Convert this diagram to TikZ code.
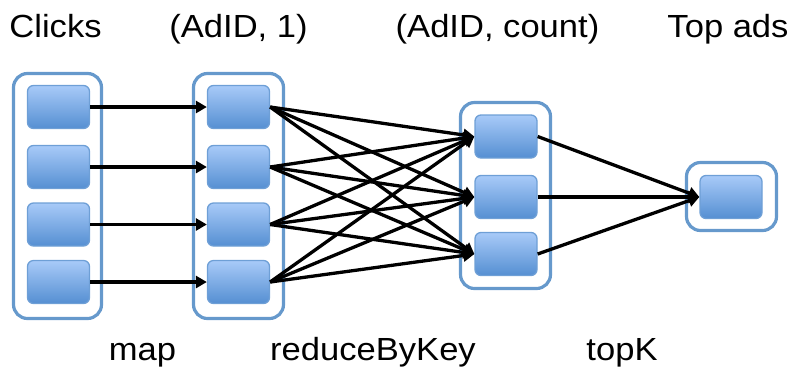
\documentclass[tikz,border=0pt]{standalone}
\usepackage{fontspec}
\setmainfont[FakeStretch=1.08]{Liberation Sans}
\usetikzlibrary{arrows.meta}
\definecolor{outerblue}{HTML}{6699CC}
\definecolor{innertop}{HTML}{A8CAF8}
\definecolor{innerbot}{HTML}{558FD2}
\definecolor{innerline}{HTML}{6E9FD6}
\begin{document}
\begin{tikzpicture}[x=1pt,y=-1pt,
  cell/.style={draw=innerline, line width=1.3pt, rounded corners=6pt,
    top color=innertop, bottom color=innerbot,
    minimum width=62pt, minimum height=43pt, inner sep=0pt},
  group/.style={draw=outerblue, line width=3.2pt, rounded corners=14pt, inner sep=0pt},
  lbl/.style={font=\fontsize{32}{38}\selectfont, inner sep=0pt, anchor=base},
  flow/.style={-{Triangle[length=11pt,width=12pt]}, line width=3.3pt, black}]
\useasboundingbox (0,0) rectangle (791,368);
% outer groups
\node[group, minimum width=88pt, minimum height=245pt] (g1) at (57.5,196) {};
\node[group, minimum width=90pt, minimum height=245pt] (g2) at (238.5,196) {};
\node[group, minimum width=90pt, minimum height=186pt] (g3) at (505.5,195.5) {};
\node[group, minimum width=90pt, minimum height=68pt] (g4) at (731.5,196.5) {};
% cells
\foreach \i/\y in {1/107,2/167,3/224.5,4/282}{
  \node[cell] (a\i) at (58.5,\y) {};
  \node[cell] (b\i) at (238.5,\y) {};
}
\foreach \j/\y in {1/136.5,2/197,3/254}{
  \node[cell] (c\j) at (506,\y) {};
}
\node[cell] (d1) at (731,197) {};
% arrows
\foreach \i in {1,...,4}{
  \draw[flow] (a\i.east) -- (b\i.west);
  \foreach \j in {1,2,3}{
    \draw[flow] (b\i.east) -- (c\j.west);
  }
}
\foreach \j in {1,2,3}{
  \draw[flow] (c\j.east) -- (d1.west);
}
% labels
\node[lbl] (t1) at (55.5,37) {Clicks};
\node[lbl] (t2) at (238.5,37) {(AdID, 1)};
\node[lbl] (t3) at (497.5,37) {(AdID, count)};
\node[lbl] (t4) at (728,37) {Top ads};
\node[lbl] (m1) at (142.5,360) {map};
\node[lbl] (m2) at (373,360) {reduceByKey};
\node[lbl] (m3) at (622,360) {topK};
\end{tikzpicture}
\end{document}
